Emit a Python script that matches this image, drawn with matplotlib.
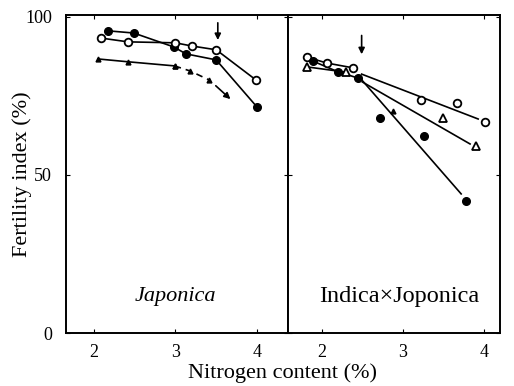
import matplotlib.pyplot as plt

plt.rcParams['font.family'] = ['Liberation Serif', 'DejaVu Serif']

# Japonica
jp_fill_x = [2.17, 2.49, 2.98, 3.13, 3.50, 4.00]
jp_fill_y = [95.6, 94.9, 90.5, 88.3, 86.4, 71.5]
jp_open_x = [2.09, 2.42, 3.00, 3.20, 3.50, 3.99]
jp_open_y = [93.3, 92.1, 91.8, 90.8, 89.6, 80.0]
jp_tri_x = [2.05, 2.42, 2.99, 3.18, 3.41]
jp_tri_y = [86.7, 85.8, 84.5, 82.9, 80.1]
jp_tri_end = (3.70, 73.4)
jp_arrow_x = 3.52
jp_arrow_y = (99.0, 91.8)

# Indica x Japonica
ij_open_x = [1.81, 2.06, 2.38, 3.22, 3.67, 4.01]
ij_open_y = [87.3, 85.4, 83.9, 73.7, 72.8, 66.8]
ij_fill_x = [1.89, 2.20, 2.44, 2.72, 3.26, 3.78]
ij_fill_y = [86.0, 82.6, 80.7, 68.0, 62.4, 41.8]
ij_tri_x = [1.81, 2.30, 3.49, 3.90]
ij_tri_y = [84.2, 82.5, 68.0, 59.2]
ij_small_tri = (2.88, 70.3)
# fitted lines above the critical nitrogen level
ij_open_fit_x = [2.49, 3.93]
ij_open_fit_y = [81.9, 67.7]
ij_fill_fit_x = [2.47, 3.72]
ij_fill_fit_y = [80.7, 44.0]
ij_tri_fit_x = [2.50, 3.83]
ij_tri_fit_y = [79.4, 59.8]
ij_arrow_x = 2.49
ij_arrow_y = (95.0, 87.3)

fig = plt.figure(figsize=(5.14, 3.86), dpi=100)
ax1 = fig.add_axes([66 / 514, 1 - 333 / 386, 222 / 514, 318 / 386])
ax2 = fig.add_axes([288 / 514, 1 - 333 / 386, 212 / 514, 318 / 386])

ms = 5.5
lw = 1.2

# left panel
ax1.plot(jp_fill_x, jp_fill_y, '-o', color='black', mfc='black', ms=ms, lw=lw)
ax1.plot(jp_open_x, jp_open_y, '-o', color='black', mfc='white', mew=1.3, ms=ms, lw=lw)
ax1.plot(jp_tri_x[:3], jp_tri_y[:3], '-^', color='black', ms=3.5, lw=lw)
ax1.plot(jp_tri_x[2:], jp_tri_y[2:], '--^', color='black', ms=3.5, lw=lw, dashes=(4, 3))
ax1.annotate('', xy=jp_tri_end, xytext=(jp_tri_x[-1] + 0.06, jp_tri_y[-1] - 1.3),
             arrowprops=dict(arrowstyle='-|>', color='black', lw=lw, mutation_scale=9))
ax1.annotate('', xy=(jp_arrow_x, jp_arrow_y[1]), xytext=(jp_arrow_x, jp_arrow_y[0]),
             arrowprops=dict(arrowstyle='-|>', color='black', lw=lw, mutation_scale=9))
ax1.text(3.0, 11.5, 'Japonica', style='italic', ha='center', va='center', fontsize=16)

# right panel
ax2.plot(ij_open_x[:3], ij_open_y[:3], '-', color='black', lw=lw)
ax2.plot(ij_fill_x[:3], ij_fill_y[:3], '-', color='black', lw=lw)
ax2.plot(ij_tri_x[:2], ij_tri_y[:2], '-', color='black', lw=lw)
ax2.plot(ij_open_fit_x, ij_open_fit_y, '-', color='black', lw=lw)
ax2.plot(ij_fill_fit_x, ij_fill_fit_y, '-', color='black', lw=lw)
ax2.plot(ij_tri_fit_x, ij_tri_fit_y, '-', color='black', lw=lw)
ax2.plot(ij_open_x, ij_open_y, 'o', color='black', mfc='white', mew=1.3, ms=ms)
ax2.plot(ij_fill_x, ij_fill_y, 'o', color='black', ms=ms)
ax2.plot(ij_tri_x, ij_tri_y, '^', color='black', mfc='white', mew=1.3, ms=ms)
ax2.plot(*ij_small_tri, '^', color='black', ms=3.5)
ax2.annotate('', xy=(ij_arrow_x, ij_arrow_y[1]), xytext=(ij_arrow_x, ij_arrow_y[0]),
             arrowprops=dict(arrowstyle='-|>', color='black', lw=lw, mutation_scale=9))
ax2.text(2.95, 11.5, 'Indica\u00d7Joponica', ha='center', va='center', fontsize=17.5)

ax1.set_xlim(1.66, 4.38)
ax2.set_xlim(1.58, 4.20)
for ax in (ax1, ax2):
    ax.set_ylim(0, 100.6)
    ax.set_xticks([2, 3, 4])
    ax.set_yticks([0, 50, 100])
    ax.tick_params(direction='in', top=True, right=True, length=3, labelsize=13)
    ax.tick_params(axis='x', pad=8)
    ax.tick_params(axis='y', pad=10)
    for s in ax.spines.values():
        s.set_linewidth(1.4)
ax2.tick_params(labelleft=False)

fig.text(22 / 514, 1 - 174 / 386, 'Fertility index (%)', rotation=90,
         ha='center', va='center', fontsize=16)
fig.text(283 / 514, 1 - 373 / 386, 'Nitrogen content (%)', ha='center', va='center', fontsize=16)

fig.savefig('out.png', dpi=100)
